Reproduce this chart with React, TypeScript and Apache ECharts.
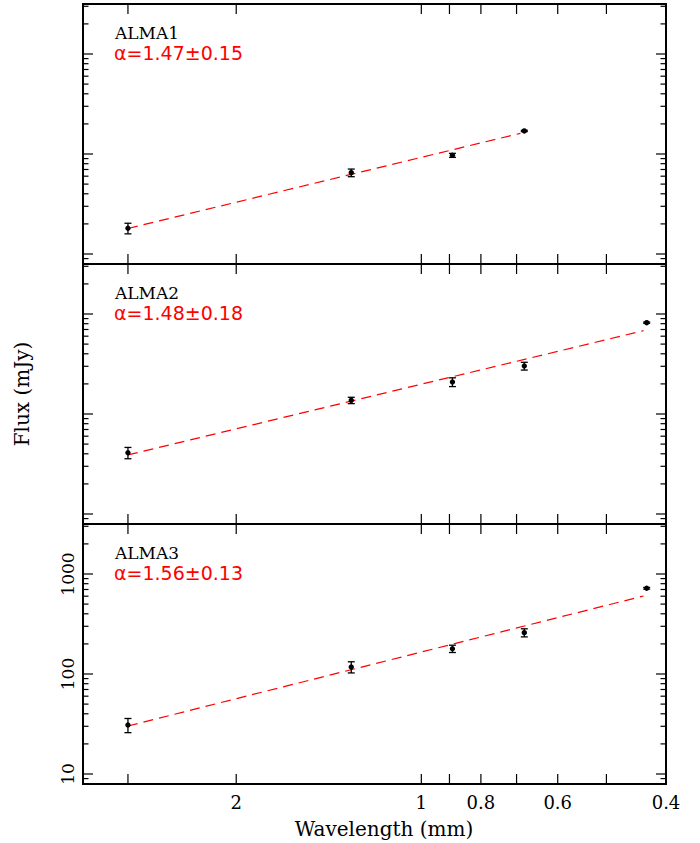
import React, { useEffect, useRef } from "react";
import * as echarts from "echarts";

// ---- data ----
const wavelengths = [3.0, 1.3, 0.89, 0.68, 0.43]; // mm
const alma1Flux = [18.1, 65, 97, 170];
const alma1Err = [2.2, 5.7, 4.5, 2.5];
const alma2Flux = [41, 137, 209, 302, 819];
const alma2Err = [5.3, 10, 21, 27, 12];
const alma3Flux = [30.9, 117.5, 179, 259, 720];
const alma3Err = [5, 15, 15, 24, 14];
const alma1Fit = [[3.0, 18.0], [0.69, 161]];
const alma2Fit = [[3.0, 39], [0.435, 681]];
const alma3Fit = [[3.0, 30.2], [0.435, 603]];
const panelNames = ["ALMA1", "ALMA2", "ALMA3"];
const alphaLabels = ["α=1.47±0.15", "α=1.48±0.18", "α=1.56±0.13"];
const xTickValues = [3, 2, 1, 0.9, 0.8, 0.7, 0.6, 0.5, 0.4];
const xTickLabels = [2, 1, 0.8, 0.6, 0.4];
const yMajorTicks = [10, 100, 1000];
const yMinorTicks = [8, 9, 20, 30, 40, 50, 60, 70, 80, 90, 200, 300, 400, 500, 600, 700, 800, 900, 2000, 3000];
const yTickLabels = [10, 100, 1000];
const xTitle = "Wavelength (mm)";
const yTitle = "Flux (mJy)";

const X_MIN = 0.4;
const X_MAX = 3.55;
const Y_MIN = Math.pow(10, 0.9);
const Y_MAX = Math.pow(10, 3.5);

const PANEL_TOPS = [4, 264, 524];
const PANEL_H = 260;
const LEFT = 83;
const RIGHT = 34;

const SERIF = "'DejaVu Serif', serif";
const SANS = "'DejaVu Sans', sans-serif";

export default function App() {
  const ref = useRef<HTMLDivElement>(null);

  useEffect(() => {
    if (!ref.current) return;
    const chart = echarts.init(ref.current, null, { renderer: "svg" });

    const fluxes = [alma1Flux, alma2Flux, alma3Flux];
    const errs = [alma1Err, alma2Err, alma3Err];
    const fits = [alma1Fit, alma2Fit, alma3Fit];

    const grids = PANEL_TOPS.map((t) => ({
      left: LEFT,
      right: RIGHT,
      top: t,
      height: PANEL_H,
      show: true,
      borderColor: "#000",
      borderWidth: 2,
      backgroundColor: "transparent",
    }));

    const hidden = {
      axisLine: { show: false },
      axisTick: { show: false },
      axisLabel: { show: false },
      splitLine: { show: false },
    };

    const xAxes = PANEL_TOPS.map((_, i) => ({
      gridIndex: i,
      type: "log",
      logBase: 10,
      min: X_MIN,
      max: X_MAX,
      inverse: true,
      ...hidden,
    }));
    const yAxes = PANEL_TOPS.map((_, i) => ({
      gridIndex: i,
      type: "log",
      logBase: 10,
      min: Y_MIN,
      max: Y_MAX,
      ...hidden,
    }));

    const series: any[] = [];
    PANEL_TOPS.forEach((_, i) => {
      series.push({
        type: "line",
        xAxisIndex: i,
        yAxisIndex: i,
        data: fits[i],
        symbol: "none",
        silent: true,
        lineStyle: { color: "#ff0000", width: 1.2, type: [10, 6] },
        z: 2,
      });
      const rows = fluxes[i].map((f, k) => [wavelengths[k], f, f - errs[i][k], f + errs[i][k]]);
      series.push({
        type: "custom",
        xAxisIndex: i,
        yAxisIndex: i,
        data: rows,
        silent: true,
        z: 3,
        renderItem: (params: any, api: any) => {
          const x = api.value(0);
          const p = api.coord([x, api.value(1)]);
          const lo = api.coord([x, api.value(2)]);
          const hi = api.coord([x, api.value(3)]);
          const cw = 3.5;
          const st = { stroke: "#000", lineWidth: 1.3 };
          return {
            type: "group",
            children: [
              { type: "line", shape: { x1: p[0], y1: lo[1], x2: p[0], y2: hi[1] }, style: st },
              { type: "line", shape: { x1: p[0] - cw, y1: lo[1], x2: p[0] + cw, y2: lo[1] }, style: st },
              { type: "line", shape: { x1: p[0] - cw, y1: hi[1], x2: p[0] + cw, y2: hi[1] }, style: st },
              { type: "circle", shape: { cx: p[0], cy: p[1], r: 2.7 }, style: { fill: "#000" } },
            ],
          };
        },
      });
      series.push({
        type: "custom",
        xAxisIndex: i,
        yAxisIndex: i,
        data: xTickValues.map((v) => [v, 100]),
        silent: true,
        z: 4,
        renderItem: (params: any, api: any) => {
          const cs = params.coordSys;
          const px = api.coord([api.value(0), 100])[0];
          const st = { stroke: "#000", lineWidth: 1.2 };
          const L = 10;
          return {
            type: "group",
            children: [
              { type: "line", shape: { x1: px, y1: cs.y, x2: px, y2: cs.y + L }, style: st },
              { type: "line", shape: { x1: px, y1: cs.y + cs.height, x2: px, y2: cs.y + cs.height - L }, style: st },
            ],
          };
        },
      });
      const yt = [
        ...yMajorTicks.map((v) => [1, v, 1]),
        ...yMinorTicks.map((v) => [1, v, 0]),
      ];
      series.push({
        type: "custom",
        xAxisIndex: i,
        yAxisIndex: i,
        data: yt,
        silent: true,
        z: 4,
        renderItem: (params: any, api: any) => {
          const cs = params.coordSys;
          const py = api.coord([1, api.value(1)])[1];
          const L = api.value(2) ? 10 : 5.5;
          const st = { stroke: "#000", lineWidth: 1.2 };
          return {
            type: "group",
            children: [
              { type: "line", shape: { x1: cs.x, y1: py, x2: cs.x + L, y2: py }, style: st },
              { type: "line", shape: { x1: cs.x + cs.width, y1: py, x2: cs.x + cs.width - L, y2: py }, style: st },
            ],
          };
        },
      });
    });

    series.push({
      type: "custom",
      xAxisIndex: 2,
      yAxisIndex: 2,
      data: xTickLabels.map((v) => [v, 100]),
      silent: true,
      z: 5,
      renderItem: (params: any, api: any) => {
        const cs = params.coordSys;
        const v = api.value(0);
        const px = api.coord([v, 100])[0];
        return {
          type: "text",
          x: px,
          y: cs.y + cs.height + 18,
          style: { text: String(v), fill: "#000", font: `18px ${SERIF}`, align: "center", verticalAlign: "middle" },
        };
      },
    });
    series.push({
      type: "custom",
      xAxisIndex: 2,
      yAxisIndex: 2,
      data: yTickLabels.map((v) => [1, v]),
      silent: true,
      z: 5,
      renderItem: (params: any, api: any) => {
        const cs = params.coordSys;
        const v = api.value(1);
        const py = api.coord([1, v])[1];
        return {
          type: "text",
          x: cs.x - 15,
          y: py,
          rotation: Math.PI / 2,
          style: { text: String(v), fill: "#000", font: `17px ${SERIF}`, align: "center", verticalAlign: "middle" },
        };
      },
    });

    const graphics: any[] = [];
    PANEL_TOPS.forEach((t, i) => {
      graphics.push({
        type: "text",
        x: 115,
        y: t + 29,
        style: { text: panelNames[i], fill: "#000", font: `17px ${SERIF}`, align: "left", verticalAlign: "middle" },
      });
      graphics.push({
        type: "text",
        x: 114,
        y: t + 49,
        style: { text: alphaLabels[i], fill: "#ff0000", font: `19px ${SANS}`, align: "left", verticalAlign: "middle" },
      });
    });
    graphics.push({
      type: "text",
      x: 384,
      y: 829,
      style: { text: xTitle, fill: "#000", font: `20px ${SERIF}`, align: "center", verticalAlign: "middle" },
    });
    graphics.push({
      type: "text",
      x: 22,
      y: 394,
      rotation: Math.PI / 2,
      style: { text: yTitle, fill: "#000", font: `20px ${SERIF}`, align: "center", verticalAlign: "middle" },
    });

    chart.setOption({
      animation: false,
      backgroundColor: "#fff",
      grid: grids,
      xAxis: xAxes,
      yAxis: yAxes,
      series,
      graphic: graphics,
    });

    return () => chart.dispose();
  }, []);

  return (
    <div
      ref={ref}
      style={{ position: "fixed", left: 0, top: 0, width: 700, height: 843 }}
    />
  );
}
